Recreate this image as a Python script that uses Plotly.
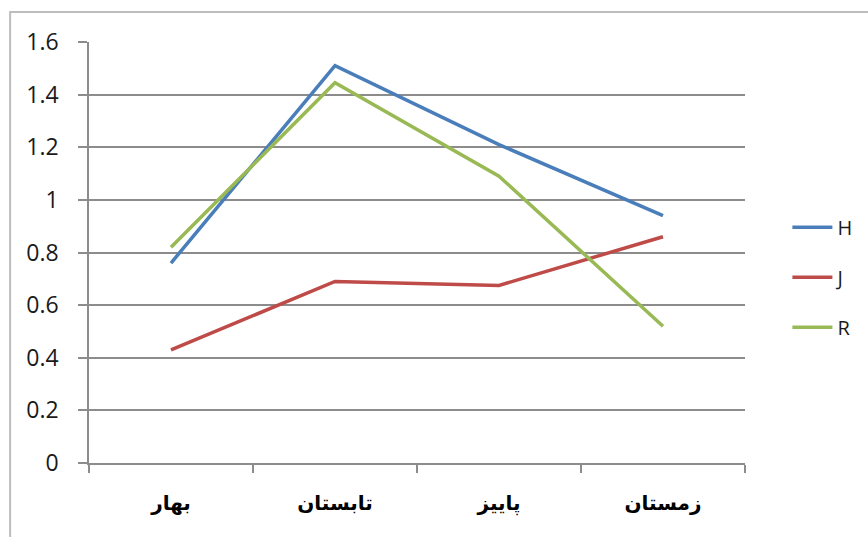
import plotly.graph_objects as go

categories = ["بهار", "تابستان", "پاییز", "زمستان"]
H = [0.76, 1.51, 1.21, 0.94]
J = [0.43, 0.69, 0.675, 0.86]
R = [0.82, 1.445, 1.09, 0.52]
y_ticks = [0, 0.2, 0.4, 0.6, 0.8, 1.0, 1.2, 1.4, 1.6]
y_labels = ["0", "0.2", "0.4", "0.6", "0.8", "1", "1.2", "1.4", "1.6"]

fig = go.Figure()
for name, vals, col in [("H", H, "#4A7EBB"), ("J", J, "#BE4B48"), ("R", R, "#98B954")]:
    fig.add_trace(go.Scatter(x=categories, y=vals, name=name, mode="lines",
                             legendgroup=name,
                             line=dict(color=col, width=3.5)))

fig.update_layout(
    width=868, height=537,
    margin=dict(l=89, r=122, t=42, b=74),
    paper_bgcolor="white", plot_bgcolor="white",
    font=dict(family="Open Sans, DejaVu Sans", color="#000"),
    showlegend=True,
    legend=dict(x=1.063, y=0.441, xanchor="left", yanchor="middle",
                font=dict(size=20, family="Open Sans", color="#1a1a1a"),
                tracegroupgap=21, itemwidth=40,
                bgcolor="rgba(0,0,0,0)"),
    shapes=[dict(type="rect", xref="paper", yref="paper",
                 x0=(10 - 89) / 657, x1=(900 - 89) / 657,
                 y0=(463 - 560) / 421, y1=(463 - 12) / 421,
                 line=dict(color="#BDBDBD", width=2), fillcolor="rgba(0,0,0,0)",
                 layer="below")],
)
fig.update_xaxes(
    type="category", range=[-0.5, 3.5],
    showline=True, linecolor="#8C8C8C", linewidth=1.5,
    ticks="outside", tickson="boundaries", ticklen=8, tickcolor="#8C8C8C", tickwidth=1.5,
    showgrid=False,
    tickfont=dict(size=20, family="DejaVu Sans", color="#000", weight="bold"),
    ticklabelstandoff=21,
)
fig.update_yaxes(
    range=[0, 1.6], tickvals=y_ticks, ticktext=y_labels,
    showline=True, linecolor="#8C8C8C", linewidth=1.5,
    ticks="outside", ticklen=9, tickcolor="#8C8C8C", tickwidth=1.5,
    showgrid=True, gridcolor="#8C8C8C", gridwidth=1.5,
    zeroline=False,
    tickfont=dict(size=23, family="Open Sans", color="#1a1a1a"),
    ticklabelstandoff=15,
)

fig.write_html("out.html")
